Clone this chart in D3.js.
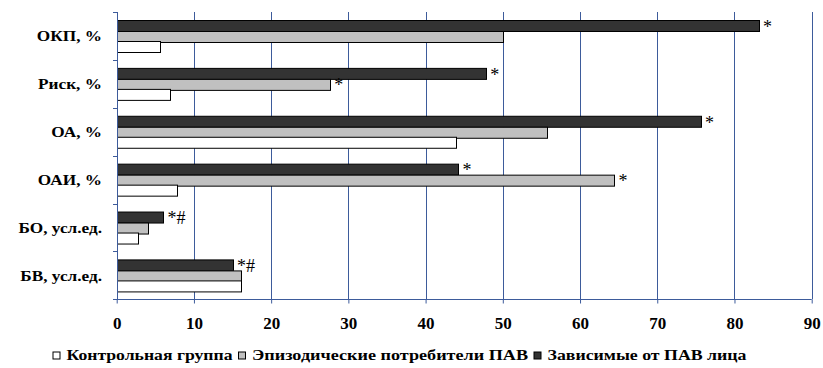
<!DOCTYPE html>
<html>
<head>
<meta charset="utf-8">
<script src="https://cdn.jsdelivr.net/npm/d3@7"></script>
<style>
  html, body { margin: 0; padding: 0; background: #fff; }
  svg { display: block; }
</style>
</head>
<body>
<svg id="chart" width="823" height="368" font-family="Liberation Serif"></svg>
<script>
// Indicators, top to bottom
const categories = ["ОКП, %", "Риск, %", "ОА, %", "ОАИ, %", "БО, усл.ед.", "БВ, усл.ед."];

// Groups (legend order)
const seriesNames = ["Контрольная группа", "Эпизодические потребители ПАВ", "Зависимые от ПАВ лица"];

const controlValues   = [5.6, 6.8, 43.9, 7.8, 2.7, 16.0];
const episodicValues  = [50.0, 27.6, 55.7, 64.4, 4.0, 16.0];
const dependentValues = [83.1, 47.8, 75.6, 44.2, 6.0, 15.0];

// Significance marks next to bars
const episodicMarks  = ["", "*", "", "*", "", ""];
const dependentMarks = ["*", "*", "*", "*", "*#", "*#"];

const xTicks = [0, 10, 20, 30, 40, 50, 60, 70, 80, 90];

const FONT = "Liberation Serif";

const series = [
  { name: seriesNames[2], values: dependentValues, marks: dependentMarks, fill: "#333333" },
  { name: seriesNames[1], values: episodicValues,  marks: episodicMarks,  fill: "#c0c0c0" },
  { name: seriesNames[0], values: controlValues,   marks: categories.map(() => ""), fill: "#ffffff" }
];

const svg = d3.select("#chart");
const gridColor = "#3d5b9b";

const plot = { left: 116.7, right: 811.7, top: 12, bottom: 299.3 };

const x = d3.scaleLinear().domain([0, 90]).range([plot.left, plot.right]);
const y = d3.scaleBand().domain(categories).range([plot.top, plot.bottom]).padding(0);
const ySub = d3.scaleBand()
  .domain(series.map(s => s.name))
  .range([0, y.bandwidth()])
  .paddingInner(0)
  .paddingOuter(0.75);

// Vertical gridlines
svg.append("g")
  .selectAll("line")
  .data(xTicks.filter(t => t > 0))
  .join("line")
  .attr("x1", d => Math.round(x(d)) + 0.5)
  .attr("x2", d => Math.round(x(d)) + 0.5)
  .attr("y1", plot.top)
  .attr("y2", plot.bottom)
  .attr("stroke", gridColor)
  .attr("stroke-width", 1);

// Bars with significance marks
const groups = svg.append("g")
  .selectAll("g")
  .data(categories)
  .join("g")
  .attr("transform", d => `translate(0,${y(d)})`);

series.forEach(s => {
  groups.append("rect")
    .attr("x", Math.round(x(0)) + 0.5)
    .attr("y", () => Math.round(ySub(s.name)) + 0.5)
    .attr("width", (d, i) => Math.max(0, Math.round(x(s.values[i]) - x(0))))
    .attr("height", Math.round(ySub.bandwidth()))
    .attr("fill", s.fill)
    .attr("stroke", "#000")
    .attr("stroke-width", 1);

  groups.append("text")
    .attr("x", (d, i) => x(s.values[i]) + 4.5)
    .attr("y", () => ySub(s.name) + ySub.bandwidth() / 2 + 7.5)
    .attr("font-family", FONT)
    .attr("font-size", 18)
    .attr("fill", "#000")
    .text((d, i) => s.marks[i]);
});

// Bottom axis
const xAxis = d3.axisBottom(x).tickValues(xTicks).tickSize(4).tickPadding(13).tickFormat(d3.format("d"));
const gx = svg.append("g")
  .attr("transform", `translate(0,${Math.round(plot.bottom) + 0.5})`)
  .call(xAxis)
  .attr("font-family", FONT)
  .attr("font-size", 17)
  .attr("font-weight", "bold");
gx.select(".domain").attr("stroke", gridColor).attr("d", `M${x(0)},0H${x(90)}`);
gx.selectAll(".tick line").attr("stroke", gridColor);
gx.selectAll(".tick text")
  .attr("font-family", FONT)
  .attr("font-weight", "bold")
  .attr("font-size", 17)
  .attr("fill", "#000");

// Left axis: boundary ticks between categories
const boundaries = d3.range(categories.length + 1).map(i => plot.top + i * y.step());
const gy = svg.append("g");
gy.append("line")
  .attr("x1", Math.round(x(0)) + 0.5).attr("x2", Math.round(x(0)) + 0.5)
  .attr("y1", plot.top).attr("y2", plot.bottom)
  .attr("stroke", gridColor);
gy.selectAll("line.tick")
  .data(boundaries)
  .join("line")
  .attr("class", "tick")
  .attr("x1", Math.round(x(0)) - 4).attr("x2", Math.round(x(0)) + 0.5)
  .attr("y1", d => Math.round(d) + 0.5).attr("y2", d => Math.round(d) + 0.5)
  .attr("stroke", gridColor);

// Category labels, slightly widened
gy.selectAll("text")
  .data(categories)
  .join("text")
  .attr("transform", d => `translate(102,${y(d) + y.bandwidth() / 2 + 5.5}) scale(1.15,1)`)
  .attr("text-anchor", "end")
  .attr("font-family", FONT)
  .attr("font-weight", "bold")
  .attr("font-size", 15)
  .attr("fill", "#000")
  .text(d => d);

// Legend
const legendOrder = [series[2], series[1], series[0]];
const legendWidths = [166, 276, 199];
const legend = svg.append("g").attr("transform", "translate(52.5,359.5)");
let lx = 0;
legendOrder.forEach((s, i) => {
  legend.append("rect")
    .attr("x", lx + 0.5).attr("y", -7.5)
    .attr("width", 7).attr("height", 7)
    .attr("fill", s.fill)
    .attr("stroke", "#000");
  legend.append("text")
    .attr("x", lx + 14)
    .attr("y", 0)
    .attr("font-family", FONT)
    .attr("font-weight", "bold")
    .attr("font-size", 14)
    .attr("textLength", legendWidths[i])
    .attr("lengthAdjust", "spacingAndGlyphs")
    .attr("fill", "#000")
    .text(s.name);
  lx += 14 + legendWidths[i] + 5.5;
});
</script>
</body>
</html>
